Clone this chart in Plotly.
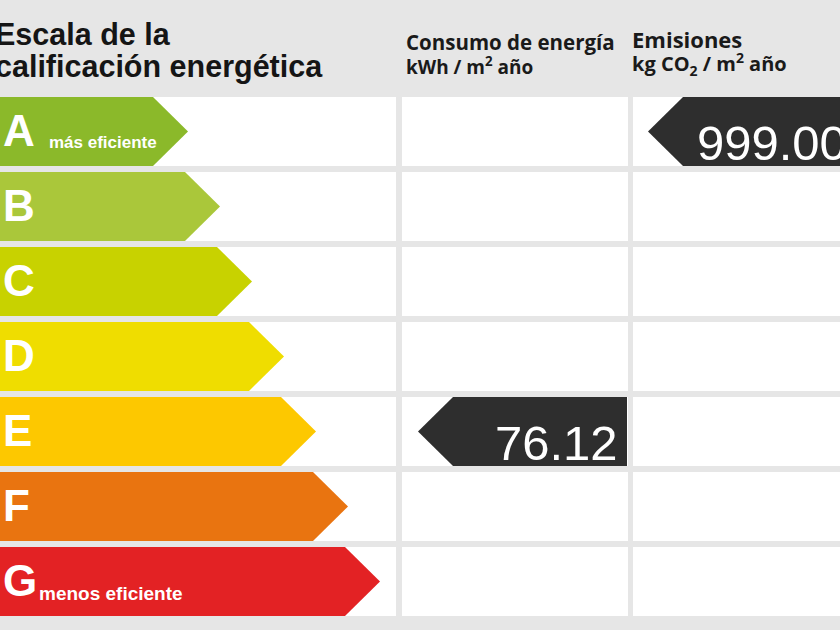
import plotly.graph_objects as go

# ---- data ----
categories = ["A", "B", "C", "D", "E", "F", "G"]
category_notes = ["más eficiente", "", "", "", "", "", "menos eficiente"]
consumption_value = 76.12
consumption_class = "E"
emission_value = 999.00
emission_class = "A"

title_lines = ["Escala de la", "calificación energética"]
consumption_header = ["Consumo de energía", "kWh / m<sup>2</sup> año"]
emission_header = ["Emisiones", "kg CO<sub>2</sub> / m<sup>2</sup> año"]

# ---- styles ----
category_colors = ["#8bb92a", "#aac73a", "#c8d200", "#efdd00", "#fdc800", "#e97410", "#e32224"]
bg_grey = "#e6e6e6"
marker_dark = "#2e2e2e"

W, H = 840, 630
row_top0, row_step, row_h = 97, 75, 69
col1 = (0, 396)
col2 = (402, 628)
col3 = (633, 870)
arrow_base, arrow_step, arrow_tip = 153, 32, 35

fig = go.Figure()
shapes = []
annotations = []

def row_y(i):
    return row_top0 + i * row_step

note_style = {0: (47, 57, 17), 6: (37, 59, 19)}

for i, cat in enumerate(categories):
    y0 = row_y(i)
    y1 = y0 + row_h
    ym = (y0 + y1) / 2
    for (xa, xb) in (col1, col2, col3):
        shapes.append(dict(type="rect", xref="x", yref="y", x0=xa, x1=xb, y0=y0, y1=y1,
                           fillcolor="white", line=dict(width=0), layer="below"))
    xe = arrow_base + arrow_step * i
    path = f"M 0,{y0} L {xe},{y0} L {xe + arrow_tip},{ym} L {xe},{y1} L 0,{y1} Z"
    shapes.append(dict(type="path", xref="x", yref="y", path=path,
                       fillcolor=category_colors[i], line=dict(width=0), layer="above"))
    annotations.append(dict(x=1, y=ym - 1, xref="x", yref="y", text=f"<b>{cat}</b>",
                            showarrow=False, xanchor="left", yanchor="middle",
                            font=dict(family="Liberation Sans, Arial", size=44, color="white")))
    if category_notes[i]:
        nx, ny, ns = note_style.get(i, (40, 57, 18))
        annotations.append(dict(x=nx, y=y0 + ny, xref="x", yref="y",
                                text=f"<b>{category_notes[i]}</b>",
                                showarrow=False, xanchor="left", yanchor="bottom",
                                font=dict(family="Liberation Sans, Arial", size=ns, color="white")))

def value_marker(cls, value, col, tip_x, text_right, shift=0):
    i = categories.index(cls)
    y0 = row_y(i)
    y1 = y0 + row_h
    ym = (y0 + y1) / 2
    path = (f"M {tip_x},{ym} L {tip_x + 35},{y0} L {col[1] - 1},{y0} "
            f"L {col[1] - 1},{y1} L {tip_x + 35},{y1} Z")
    shapes.append(dict(type="path", xref="x", yref="y", path=path,
                       fillcolor=marker_dark, line=dict(width=0), layer="above"))
    annotations.append(dict(x=text_right, xshift=shift, y=ym + 11, xref="x", yref="y",
                            text=f"{value:.2f}",
                            showarrow=False, xanchor="right", yanchor="middle",
                            font=dict(family="Liberation Sans, Arial", size=49, color="white")))

value_marker(consumption_class, consumption_value, col2, 418, 620)
value_marker(emission_class, emission_value, (633, 860), 648, 840, shift=9)

# titles
for k, line in enumerate(title_lines):
    annotations.append(dict(x=0, xshift=-7, y=53 + 33 * k, xref="x", yref="y", text=f"<b>{line}</b>",
                            showarrow=False, xanchor="left", yanchor="bottom",
                            font=dict(family="Liberation Sans, Arial", size=30.5, color="#151515")))

hdr_font = dict(family="Open Sans, Liberation Sans", size=19, color="#1a1a1a", weight="bold")
for k, line in enumerate(consumption_header):
    f = dict(hdr_font)
    if k == 0:
        f["size"] = 20.5
    annotations.append(dict(x=404, y=58 + 24 * k, xref="x", yref="y", text=line, showarrow=False,
                            xanchor="left", yanchor="bottom", font=f))
for k, line in enumerate(emission_header):
    f = dict(hdr_font)
    f["size"] = 22 if k == 0 else 20
    annotations.append(dict(x=630, y=56 + 26 * k, xref="x", yref="y", text=line, showarrow=False,
                            xanchor="left", yanchor="bottom", font=f))

fig.update_layout(
    width=W, height=H,
    margin=dict(l=0, r=0, t=0, b=0),
    paper_bgcolor=bg_grey, plot_bgcolor=bg_grey,
    shapes=shapes, annotations=annotations,
    xaxis=dict(range=[0, W], visible=False, fixedrange=True),
    yaxis=dict(range=[H, 0], visible=False, fixedrange=True),
    showlegend=False,
)

fig.write_html("out.html", config={"displayModeBar": False},
               post_script="document.body.style.margin='0';document.body.style.padding='0';")
